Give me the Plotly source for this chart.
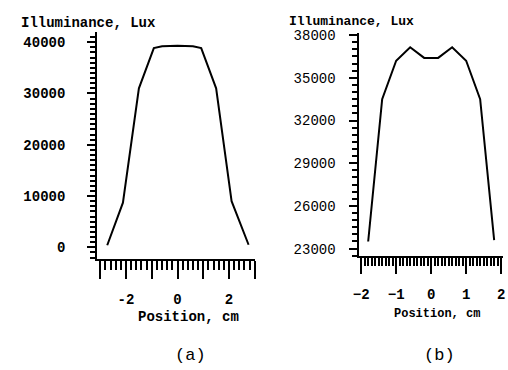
import plotly.graph_objects as go

# Panel (a)
pos_a = [-2.73, -2.12, -1.5, -0.92, -0.6, 0.0, 0.6, 0.92, 1.5, 2.1, 2.76]
lux_a = [400, 8700, 31000, 38850, 39200, 39300, 39200, 38850, 31000, 9000, 500]
xticks_a = [-3, -2, -1, 0, 1, 2, 3]
xtext_a = ["", "-2", "", "0", "", "2", ""]
yticks_a = [0, 10000, 20000, 30000, 40000]

# Panel (b)
pos_b = [-1.8, -1.4, -1.0, -0.6, -0.2, 0.2, 0.6, 1.0, 1.4, 1.8]
lux_b = [23500, 33500, 36200, 37150, 36400, 36400, 37150, 36200, 33500, 23600]
xticks_b = [-2, -1, 0, 1, 2]
yticks_b = [23000, 26000, 29000, 32000, 35000, 38000]

W, H = 508, 370
FONT = "Liberation Mono, Courier New, monospace"

fig = go.Figure()
fig.add_trace(go.Scatter(x=pos_a, y=lux_a, mode="lines",
                         line=dict(color="black", width=2),
                         xaxis="x", yaxis="y", showlegend=False))
fig.add_trace(go.Scatter(x=pos_b, y=lux_b, mode="lines",
                         line=dict(color="black", width=2),
                         xaxis="x2", yaxis="y2", showlegend=False))

def px(x):
    return x / W

def py(y):
    return 1 - y / H

common = dict(showline=True, linecolor="black", linewidth=2, showgrid=False,
              zeroline=False, ticks="outside", tickcolor="black", tickwidth=2,
              fixedrange=True, tickformat="d", ticklabeloverflow="allow")

fig.update_layout(
    width=W, height=H,
    margin=dict(l=0, r=0, t=0, b=0),
    paper_bgcolor="white", plot_bgcolor="white",
    font=dict(family=FONT, color="black"),
    xaxis=dict(**common, domain=[px(92), px(253)], range=[-3.12, 3.01],
               anchor="y", tickmode="array", tickvals=xticks_a, ticktext=xtext_a,
               ticklen=18, ticklabelstandoff=8,
               tickfont=dict(size=14, family=FONT, weight="bold"),
               minor=dict(tickmode="linear", tick0=0, dtick=0.2, ticks="outside",
                          ticklen=9, tickcolor="black", tickwidth=1.5)),
    yaxis=dict(**common, domain=[py(259), py(28)], range=[-2300, 41900],
               anchor="x", tickmode="array", tickvals=yticks_a,
               ticklen=8, ticklabelstandoff=19,
               tickfont=dict(size=14, family=FONT, weight="bold"),
               minor=dict(tickmode="linear", tick0=0, dtick=1000, ticks="outside",
                          ticklen=5, tickcolor="black", tickwidth=1.5)),
    xaxis2=dict(**common, domain=[px(359.5), px(505.5)], range=[-2.05, 2.04],
                anchor="y2", tickmode="array", tickvals=xticks_b,
                ticklen=16, ticklabelstandoff=8,
                tickfont=dict(size=14, family=FONT, weight="bold"),
                minor=dict(tickmode="linear", tick0=0, dtick=0.1, ticks="outside",
                           ticklen=8, tickcolor="black", tickwidth=1.5)),
    yaxis2=dict(**common, domain=[py(255.7), py(28.3)], range=[22490, 38165],
                anchor="x2", tickmode="array", tickvals=yticks_b,
                ticklen=8, ticklabelstandoff=11,
                tickfont=dict(size=14, family=FONT),
                minor=dict(tickmode="linear", tick0=23000, dtick=500, ticks="outside",
                           ticklen=5, tickcolor="black", tickwidth=1.5)),
)

ann = [
    dict(text="Illuminance, Lux", x=px(12), y=py(18), xanchor="left", yanchor="middle",
         font=dict(size=14, family=FONT, weight="bold")),
    dict(text="Illuminance, Lux", x=px(351), y=py(17), xanchor="center", yanchor="middle",
         font=dict(size=13, family=FONT, weight="bold")),
    dict(text="Position, cm", x=px(185), y=py(318), xanchor="center", yanchor="middle",
         font=dict(size=14, family=FONT, weight="bold")),
    dict(text="Position, cm", x=px(439), y=py(315), xanchor="center", yanchor="middle",
         font=dict(size=12, family=FONT, weight="bold")),
    dict(text="(a)", x=px(187), y=py(357), xanchor="center", yanchor="middle",
         font=dict(size=17, family=FONT)),
    dict(text="(b)", x=px(441), y=py(357), xanchor="center", yanchor="middle",
         font=dict(size=17, family=FONT)),
]
for a in ann:
    a.update(xref="paper", yref="paper", showarrow=False)
fig.update_layout(annotations=ann)

fig.write_html("out.html", config={"displayModeBar": False},
               post_script="document.body.style.margin='0';document.body.style.overflow='hidden';")
